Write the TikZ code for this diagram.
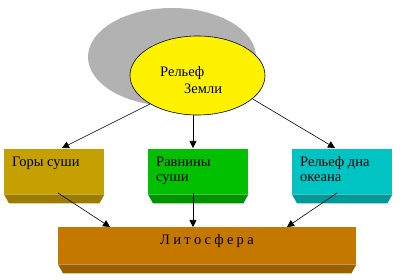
\documentclass[tikz,border=0pt]{standalone}
\usepackage{fontspec}
\setmainfont{Liberation Serif}
\usetikzlibrary{arrows.meta,shapes.geometric}
\definecolor{gorycol}{RGB}{196,160,0}
\definecolor{gorydark}{RGB}{156,124,0}
\definecolor{ravcol}{RGB}{0,192,0}
\definecolor{ravdark}{RGB}{0,148,0}
\definecolor{okcol}{RGB}{0,196,196}
\definecolor{okdark}{RGB}{0,154,154}
\definecolor{litcol}{RGB}{196,120,0}
\definecolor{litdark}{RGB}{156,96,0}
\definecolor{shadowgray}{RGB}{178,178,178}
\tikzset{
  box/.style={rectangle, inner sep=0pt, anchor=north west, draw=none},
  lbl/.style={anchor=base west, inner sep=0pt, font=\fontsize{14.5}{17}\selectfont},
  arr/.style={-{Triangle[length=7pt,width=7pt]}, line width=0.6pt},
}
\newcommand{\bandunder}[3]{%
  \fill[#2] (#1.south west) -- (#1.south east) -- ([xshift=-5pt,yshift=-9pt]#1.south east) -- ([xshift=5pt,yshift=-9pt]#1.south west) -- cycle;}
\begin{document}
\begin{tikzpicture}[x=1pt,y=-1pt]
\useasboundingbox (0,0) rectangle (400,280);
% shadow and main ellipse
\fill[shadowgray] (172,57) ellipse [x radius=84, y radius=49];
\node[ellipse, draw=black, line width=0.6pt, fill=yellow, minimum width=135pt, minimum height=79pt, inner sep=0pt] (ell) at (197.5,75.5) {};
\node[lbl] (t1) at (160,77) {Рельеф};
\node[lbl] (t2) at (184,94) {Земли};
% boxes
\node[box, fill=gorycol, minimum width=100pt, minimum height=45pt] (gory) at (4,149) {};
\bandunder{gory}{gorydark}{}
\node[box, fill=ravcol, minimum width=100pt, minimum height=45pt] (rav) at (148,149) {};
\bandunder{rav}{ravdark}{}
\node[box, fill=okcol, minimum width=100pt, minimum height=45pt] (ok) at (292,149) {};
\bandunder{ok}{okdark}{}
\node[box, fill=litcol, minimum width=298pt, minimum height=37pt] (lit) at (58,227) {};
\bandunder{lit}{litdark}{}
% labels
\node[lbl] (g1) at (12,167) {Горы суши};
\node[lbl] (r1) at (156,167) {Равнины};
\node[lbl] (r2) at (156,182) {суши};
\node[lbl] (o1) at (300,167) {Рельеф дна};
\node[lbl] (o2) at (300,182) {океана};
\node[lbl] (l1) at (160,245) {Л\kern3.3pt и\kern3.3pt т\kern3.3pt о\kern3.3pt с\kern3.3pt ф\kern3.3pt е\kern3.3pt р\kern3.3pt а};
% connector coordinates
\coordinate (gtop) at (62,148);
\coordinate (rtop) at (193,148);
\coordinate (otop) at (335,148);
\coordinate (gbot) at (58,193);
\coordinate (rbot) at (193,193);
\coordinate (obot) at (337,193);
\coordinate (lg) at (110,227);
\coordinate (lr) at (193,227);
\coordinate (lo) at (287,227);
% arrows
\draw[arr] (ell.211) -- (gtop);
\draw[arr] (rtop |- ell.south) -- (rtop);
\draw[arr] (ell.337) -- (otop);
\draw[arr] (gbot) -- (lg);
\draw[arr] (rbot) -- (lr);
\draw[arr] (obot) -- (lo);
\end{tikzpicture}
\end{document}
